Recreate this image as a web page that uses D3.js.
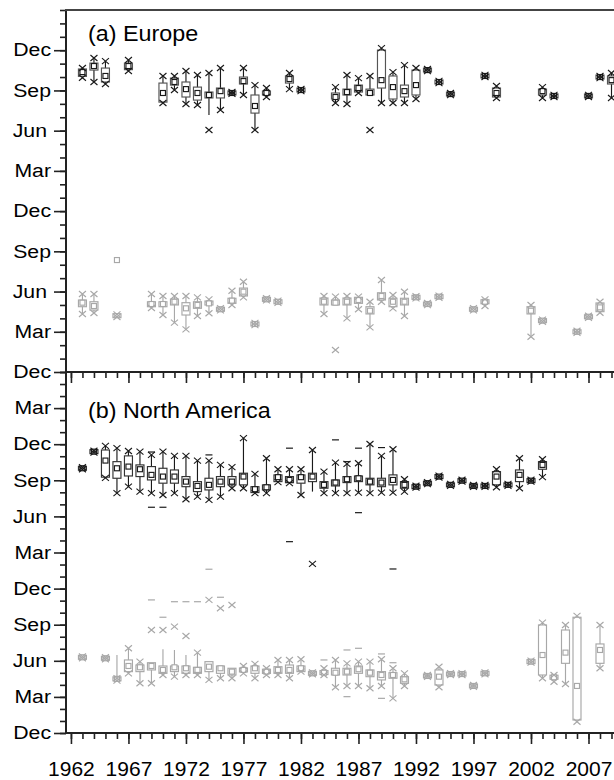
<!DOCTYPE html>
<html lang="en">
<head>
<meta charset="utf-8">
<script src="https://d3js.org/d3.v7.min.js"></script>
<title>box plots</title>
<style>
  body { margin: 0; background: #fff; }
  text { font-family: "Liberation Sans", Arial, sans-serif; fill: #000; }
</style>
</head>
<body>
<script>
// rows: [year, lo(X), q1, mean, q3, hi(X), whiskerLo?, whiskerHi?]  values in months
// panel (a): 0 = Dec, 3 = Mar, ... 24 = Dec ; panel (b): same, up to 30
var euAutumn = [
  [1963, 21.95, 22.05, 22.37, 22.60, 22.67],
  [1964, 21.63, 22.52, 22.82, 23.04, 23.42],
  [1965, 21.48, 21.63, 22.08, 22.67, 23.19],
  [1967, 22.45, 22.55, 22.82, 23.04, 23.27],
  [1970, 20.06, 20.13, 20.81, 21.55, 22.08],
  [1971, 21.03, 21.40, 21.63, 21.92, 22.08],
  [1972, 19.99, 20.51, 21.10, 21.63, 22.45],
  [1973, 19.91, 20.28, 20.81, 21.25, 22.15],
  [1974, 18.05, 20.44, 20.66, 20.88, 22.30, 19.16],
  [1975, 19.54, 20.44, 20.95, 21.18, 22.67],
  [1976, 20.75, 20.78, 20.81, 20.85, 20.88],
  [1977, 20.66, 21.48, 21.70, 22.00, 22.67],
  [1978, 18.05, 19.31, 19.84, 20.66, 21.40],
  [1979, 20.51, 20.66, 20.81, 20.95, 21.18],
  [1981, 21.10, 21.55, 21.85, 22.08, 22.30],
  [1982, 20.95, 20.99, 21.03, 21.07, 21.11],
  [1985, 20.06, 20.36, 20.51, 20.81, 21.25],
  [1986, 19.99, 20.66, 20.88, 21.10, 22.15],
  [1987, 20.81, 20.88, 21.18, 21.40, 21.92],
  [1988, 18.05, 20.66, 20.81, 21.10, 22.08, 20.66],
  [1989, 20.06, 21.18, 21.77, 24.01, 24.16],
  [1990, 20.06, 20.36, 21.25, 22.08, 22.37],
  [1991, 20.06, 20.51, 20.95, 21.40, 22.89],
  [1992, 20.36, 20.66, 21.40, 22.52, 22.67],
  [1993, 22.44, 22.48, 22.52, 22.56, 22.60],
  [1994, 21.55, 21.59, 21.63, 21.67, 21.71],
  [1995, 20.65, 20.69, 20.73, 20.77, 20.81],
  [1998, 22.00, 22.04, 22.08, 22.12, 22.16],
  [1999, 20.44, 20.51, 20.81, 21.18, 21.33],
  [2003, 20.44, 20.66, 20.95, 21.10, 21.25],
  [2004, 20.51, 20.55, 20.59, 20.63, 20.67],
  [2007, 20.51, 20.55, 20.59, 20.63, 20.67],
  [2008, 21.92, 21.96, 22.00, 22.04, 22.08],
  [2009, 20.44, 21.48, 21.77, 22.08, 22.30]
];

var euSpring = [
  [1963, 4.33, 4.87, 5.17, 5.37, 5.82],
  [1964, 4.40, 4.62, 4.92, 5.24, 5.82],
  [1966, 4.10, 4.15, 8.35, 4.25, 4.30],
  [1969, 4.77, 4.87, 5.07, 5.24, 5.82],
  [1970, 4.25, 4.87, 5.07, 5.24, 5.67],
  [1971, 3.68, 5.00, 5.24, 5.44, 5.67],
  [1972, 3.18, 4.25, 4.75, 5.17, 5.67],
  [1973, 4.18, 4.75, 5.00, 5.24, 5.57],
  [1974, 4.38, 5.00, 5.12, 5.29, 5.42],
  [1975, 4.60, 4.64, 4.68, 4.72, 4.76],
  [1976, 5.00, 5.12, 5.32, 5.50, 6.06],
  [1977, 5.57, 5.67, 5.99, 6.26, 6.73],
  [1978, 3.50, 3.54, 3.58, 3.62, 3.66],
  [1979, 5.34, 5.38, 5.42, 5.46, 5.50],
  [1980, 5.16, 5.20, 5.24, 5.28, 5.32],
  [1984, 4.33, 5.00, 5.24, 5.52, 5.67],
  [1985, 1.64, 5.00, 5.17, 5.37, 5.62, 5.00],
  [1986, 4.00, 5.00, 5.24, 5.52, 5.67],
  [1987, 4.68, 5.12, 5.37, 5.57, 5.62],
  [1988, 3.33, 4.33, 4.57, 4.87, 5.24],
  [1989, 5.24, 5.37, 5.67, 5.91, 6.86],
  [1990, 4.75, 4.87, 5.24, 5.50, 5.74],
  [1991, 4.18, 5.00, 5.24, 5.50, 5.99],
  [1992, 5.49, 5.53, 5.57, 5.61, 5.65],
  [1993, 4.99, 5.03, 5.07, 5.11, 5.15],
  [1994, 5.54, 5.58, 5.62, 5.66, 5.70],
  [1997, 4.60, 4.64, 4.68, 4.72, 4.76],
  [1998, 4.92, 5.15, 5.24, 5.33, 5.42],
  [2002, 2.63, 4.33, 4.57, 4.87, 5.00],
  [2003, 3.75, 3.79, 3.83, 3.87, 3.91],
  [2006, 2.92, 2.96, 3.00, 3.04, 3.08],
  [2007, 4.04, 4.08, 4.12, 4.16, 4.20],
  [2008, 4.42, 4.50, 4.82, 5.15, 5.24]
];

var naAutumn = [
  [1963, 21.92, 21.96, 22.00, 22.04, 22.08],
  [1964, 23.30, 23.34, 23.38, 23.42, 23.46],
  [1965, 21.20, 21.26, 22.64, 23.52, 23.86],
  [1966, 19.93, 21.17, 22.00, 22.55, 23.67],
  [1967, 20.47, 21.36, 22.14, 23.03, 23.44],
  [1968, 20.06, 21.31, 21.92, 22.28, 23.38],
  [1969, 19.93, 21.03, 21.45, 22.14, 23.11],
  [1970, 19.78, 20.76, 21.31, 22.00, 23.38],
  [1971, 19.93, 20.76, 21.31, 21.86, 23.03],
  [1972, 19.43, 20.47, 20.89, 21.31, 23.03],
  [1973, 19.64, 20.06, 20.53, 20.89, 22.64],
  [1974, 19.37, 20.20, 20.62, 21.17, 22.64],
  [1975, 19.64, 20.47, 20.89, 21.31, 22.28],
  [1976, 20.34, 20.62, 20.89, 21.31, 22.09],
  [1977, 20.34, 20.62, 21.31, 21.59, 24.50],
  [1978, 19.93, 19.98, 20.26, 20.47, 21.53],
  [1979, 19.93, 20.20, 20.42, 20.62, 22.83],
  [1980, 20.85, 20.89, 21.26, 21.45, 21.92],
  [1981, 20.76, 20.80, 21.03, 21.31, 21.92],
  [1982, 19.78, 20.76, 21.26, 21.45, 21.92],
  [1983, 14.05, 20.89, 21.31, 21.59, 23.52, 20.06],
  [1984, 19.93, 20.34, 20.62, 20.89, 21.72],
  [1985, 19.93, 20.53, 20.81, 21.03, 22.47],
  [1986, 19.93, 20.81, 21.09, 21.31, 22.36],
  [1987, 19.98, 20.89, 21.17, 21.36, 22.42],
  [1988, 19.93, 20.62, 20.89, 21.17, 24.02],
  [1989, 19.98, 20.47, 20.81, 21.17, 23.03],
  [1990, 19.98, 20.62, 21.03, 21.45, 23.58],
  [1991, 20.06, 20.34, 20.62, 20.89, 21.09],
  [1992, 20.39, 20.43, 20.47, 20.51, 20.55],
  [1993, 20.68, 20.72, 20.76, 20.80, 20.84],
  [1994, 21.23, 21.27, 21.31, 21.35, 21.39],
  [1995, 20.54, 20.58, 20.62, 20.66, 20.70],
  [1996, 20.89, 20.93, 20.97, 21.01, 21.05],
  [1997, 20.45, 20.49, 20.53, 20.57, 20.61],
  [1998, 20.45, 20.49, 20.53, 20.57, 20.61],
  [1999, 20.42, 20.62, 21.31, 21.72, 21.92],
  [2000, 20.54, 20.58, 20.62, 20.66, 20.70],
  [2001, 20.34, 20.89, 21.45, 21.86, 22.83],
  [2002, 20.89, 20.93, 20.97, 21.01, 21.05],
  [2003, 21.26, 21.92, 22.28, 22.55, 22.75]
];
// min / max dashes
var naAutumnDash = [
  [1969, 23.35], [1969, 18.76], [1970, 18.76], [1974, 23.11], [1981, 23.67], [1981, 15.90],
  [1985, 24.36], [1986, 22.55], [1987, 23.67], [1987, 18.31], [1989, 23.72], [1990, 13.63]
];

var naSpring = [
  [1963, 6.21, 6.25, 6.29, 6.33, 6.37],
  [1965, 6.13, 6.17, 6.21, 6.25, 6.29],
  [1966, 4.35, 4.45, 4.50, 4.55, 4.55, null, 6.48],
  [1967, 4.96, 5.10, 5.57, 6.07, 7.04],
  [1968, 4.13, 5.10, 5.46, 5.65, 5.93],
  [1969, 4.13, 5.24, 5.57, 5.84, 8.56, null, 5.84],
  [1970, 4.82, 4.96, 5.24, 5.57, 8.56, null, 6.96],
  [1971, 4.68, 5.10, 5.46, 5.57, 8.84, null, 6.90],
  [1972, 4.82, 4.96, 5.38, 5.57, 8.06, null, 6.48],
  [1973, 4.82, 4.96, 5.24, 5.46, 6.68],
  [1974, 4.41, 5.10, 5.51, 5.93, 11.06, null, 5.93],
  [1975, 4.55, 4.96, 5.38, 5.57, 10.37, null, 5.57],
  [1976, 4.55, 4.82, 5.10, 5.38, 10.64, null, 5.38],
  [1977, 4.96, 5.10, 5.24, 5.38, 5.57],
  [1978, 4.55, 4.96, 5.38, 5.57, 5.74],
  [1979, 4.82, 4.95, 5.10, 5.30, 5.38],
  [1980, 4.82, 4.96, 5.24, 5.51, 6.07],
  [1981, 4.55, 4.96, 5.24, 5.65, 6.07],
  [1982, 5.10, 5.10, 5.38, 5.57, 6.13],
  [1983, 4.88, 4.92, 4.96, 5.00, 5.04],
  [1984, 4.82, 4.95, 5.01, 5.10, 5.38],
  [1985, 3.80, 4.82, 5.01, 5.38, 6.07],
  [1986, 3.91, 4.82, 5.10, 5.38, 5.79],
  [1987, 3.91, 4.96, 5.30, 5.57, 5.93],
  [1988, 3.72, 4.68, 5.01, 5.24, 5.93],
  [1989, 3.91, 4.41, 4.82, 5.10, 6.13],
  [1990, 2.88, 4.55, 4.82, 5.01, 5.38],
  [1991, 3.91, 4.13, 4.46, 4.68, 4.96],
  [1993, 4.66, 4.70, 4.74, 4.78, 4.82],
  [1994, 3.80, 3.99, 4.68, 5.24, 5.51],
  [1995, 4.82, 4.86, 4.90, 4.94, 4.98],
  [1996, 4.82, 4.86, 4.90, 4.94, 4.98],
  [1997, 3.83, 3.87, 3.91, 3.95, 3.99],
  [1998, 4.88, 4.92, 4.96, 5.00, 5.04],
  [2002, 5.85, 5.89, 5.93, 5.97, 6.01],
  [2003, 4.55, 4.82, 6.48, 8.98, 9.17],
  [2004, 4.26, 4.55, 4.63, 4.72, 4.82],
  [2005, 4.07, 5.79, 6.68, 8.56, 8.98],
  [2006, 0.94, 1.08, 3.91, 9.62, 9.73],
  [2008, 5.38, 5.79, 6.90, 7.40, 8.98]
];
var naSpringDash = [
  [1969, 11.06], [1970, 9.62], [1971, 10.91], [1972, 10.91], [1973, 10.91], [1974, 13.61],
  [1975, 11.28], [1984, 6.07], [1986, 6.90], [1986, 3.02], [1987, 7.04], [1989, 6.57],
  [1989, 2.88], [1990, 5.84]
];

var monthNames = ["Dec", "Mar", "Jun", "Sep"];
var ticksA = d3.range(0, 25, 3);     // Dec ... Dec
var ticksB = d3.range(0, 28, 3);     // Dec ... Mar
var yearLabels = d3.range(1962, 2008, 5);
var yearMinor = d3.range(1962, 2010);
var titles = ["(a) Europe", "(b) North America"];

var width = 614, height = 780;
var plotL = 66, plotR = 623, plotT = 10, plotM = 372, plotB = 733;

var svg = d3.select("body").append("svg").attr("width", width).attr("height", height);

var x = d3.scaleLinear().domain([1961.57, 2010]).range([plotL, plotR]);
var yA = d3.scaleLinear().domain([0, 27]).range([plotM, plotT]);
var yB = d3.scaleLinear().domain([0, 30]).range([plotB, plotM]);

// widen text a bit (original lettering is horizontally stretched)
function stretch(sel, k) {
  sel.each(function() {
    var w = this.getComputedTextLength();
    d3.select(this).attr("textLength", w * k).attr("lengthAdjust", "spacingAndGlyphs");
  });
}

function styleAxis(g) {
  g.select(".domain").remove();
  g.selectAll(".tick line").attr("stroke", "#222").attr("stroke-width", 1.6);
}

// y axes
function drawYAxis(scale, majors, nMinor) {
  svg.append("g").attr("transform", "translate(" + plotL + ",0)")
     .call(d3.axisLeft(scale).tickValues(d3.range(0, nMinor + 1)).tickSize(6).tickFormat(""))
     .call(styleAxis);
  var g = svg.append("g").attr("transform", "translate(" + plotL + ",0)")
     .call(d3.axisLeft(scale).tickValues(majors).tickSize(12).tickPadding(3)
       .tickFormat(function(d) { return monthNames[(d / 3) % 4]; }))
     .call(styleAxis);
  g.selectAll(".tick text")
   .attr("font-size", 18)
   .attr("font-family", "Liberation Sans, Arial, sans-serif")
   .attr("fill", "#000")
   .attr("dx", function(d) { return monthNames[(d / 3) % 4] == "Jun" ? -4 : 0; })
   .call(stretch, 1.18);
}
drawYAxis(yA, ticksA, 27);
drawYAxis(yB, ticksB, 30);

// x axes (shared middle one, and bottom one with labels)
[plotM, plotB].forEach(function(yy, i) {
  svg.append("g").attr("transform", "translate(0," + yy + ")")
     .call(d3.axisBottom(x).tickValues(yearMinor).tickSize(6).tickFormat(""))
     .call(styleAxis);
  var g = svg.append("g").attr("transform", "translate(0," + yy + ")")
     .call(d3.axisBottom(x).tickValues(yearLabels).tickSize(11).tickPadding(18)
       .tickFormat(i == 1 ? d3.format("d") : ""))
     .call(styleAxis);
  g.selectAll(".tick text")
   .attr("font-size", 20)
   .attr("font-family", "Liberation Sans, Arial, sans-serif")
   .attr("fill", "#000")
   .call(stretch, 1.05);
});

// frame
var frame = svg.append("g").attr("stroke", "#222").attr("stroke-width", 2);
frame.append("line").attr("x1", plotL).attr("x2", plotL).attr("y1", plotT).attr("y2", plotB);
frame.append("line").attr("x1", plotL - 1).attr("x2", width).attr("y1", plotT).attr("y2", plotT).attr("stroke", "#444");
frame.append("line").attr("x1", plotL - 1).attr("x2", width).attr("y1", plotM).attr("y2", plotM);
frame.append("line").attr("x1", plotL - 1).attr("x2", width).attr("y1", plotB).attr("y2", plotB);

// titles
svg.append("text").attr("x", 88).attr("y", 41).attr("font-size", 22).text(titles[0]).call(stretch, 1.06);
svg.append("text").attr("x", 88).attr("y", 418).attr("font-size", 22).text(titles[1]).call(stretch, 1.06);

// box plots
var xMark = "M-3.5,-3L3.5,3M-3.5,3L3.5,-3";

function drawBoxes(rows, y, markCol, boxCol) {
  var bw = 8;
  var g = svg.append("g").attr("fill", "none").attr("stroke-width", 1.15);
  var item = g.selectAll("g").data(rows).enter().append("g")
    .attr("transform", function(d) { return "translate(" + x(d[0]) + ",0)"; });

  // whiskers
  item.append("line")
    .attr("stroke", markCol)
    .attr("y1", function(d) { return y(d[6] == null ? d[1] : d[6]); })
    .attr("y2", function(d) { return y(d[2]); });
  item.append("line")
    .attr("stroke", markCol)
    .attr("y1", function(d) { return y(d[4]); })
    .attr("y2", function(d) { return y(d[7] == null ? d[5] : d[7]); });

  // box (at least 4px high)
  item.append("rect")
    .attr("stroke", boxCol)
    .attr("x", -bw / 2).attr("width", bw)
    .attr("y", function(d) {
      var t = y(d[4]), b = y(d[2]);
      return b - t < 4 ? (t + b) / 2 - 2 : t;
    })
    .attr("height", function(d) { return Math.max(y(d[2]) - y(d[4]), 4); });

  // mean
  item.append("rect")
    .attr("stroke", markCol).attr("fill", "#fff")
    .attr("x", -2.5).attr("width", 5).attr("height", 5)
    .attr("y", function(d) { return y(d[3]) - 2.5; });

  // 1% / 99% crosses
  item.append("path").attr("stroke", markCol).attr("d", xMark)
    .attr("transform", function(d) { return "translate(0," + y(d[1]) + ")"; });
  item.append("path").attr("stroke", markCol).attr("d", xMark)
    .attr("transform", function(d) { return "translate(0," + y(d[5]) + ")"; });
}

function drawDashes(rows, y, col) {
  svg.append("g").selectAll("line").data(rows).enter().append("line")
    .attr("stroke", col).attr("stroke-width", 1.2)
    .attr("x1", function(d) { return x(d[0]) - 3.5; })
    .attr("x2", function(d) { return x(d[0]) + 3.5; })
    .attr("y1", function(d) { return y(d[1]); })
    .attr("y2", function(d) { return y(d[1]); });
}

var grey = "#a8a8a8";
drawBoxes(euSpring, yA, grey, grey);
drawBoxes(euAutumn, yA, "#1a1a1a", "#555");
drawBoxes(naSpring, yB, grey, grey);
drawDashes(naSpringDash, yB, grey);
drawBoxes(naAutumn, yB, "#1a1a1a", "#333");
drawDashes(naAutumnDash, yB, "#1a1a1a");
</script>
</body>
</html>
